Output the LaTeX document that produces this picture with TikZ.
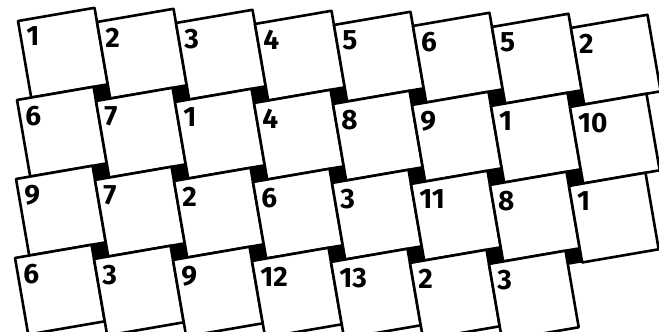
\documentclass[tikz,border=0pt]{standalone}
\usepackage{fontspec}
\setmainfont[Numbers=Proportional]{Fira Sans}

\begin{document}
\begin{tikzpicture}[x=1pt,y=1pt,
    tile/.style={draw=black,fill=white,line width=2.6pt,line join=round},
    hole/.style={fill=black},
    num/.style={anchor=north west,inner sep=0pt,font=\fontsize{28}{28}\selectfont\bfseries}]
  \def\pitch{79}
  \def\tilt{10.5}
  \def\side{77.68}
  \def\gap{14.40}
  \useasboundingbox (0,0) rectangle (659,-332);
  \clip (0,0) rectangle (659,-332);
  \begin{scope}[shift={(18,-21)},rotate=-0.72]
    % small black squares in the gaps
    \foreach \i in {0,...,6}
      \foreach \j in {0,1,2}
        \fill[hole,shift={(\i*\pitch,-\j*\pitch)},rotate=\tilt] (\side-\gap,-\side) rectangle (\side,-\side-\gap);
    % numbered tiles, row by row
    \foreach \row [count=\j from 0] in {{1,2,3,4,5,6,5,2},{6,7,1,4,8,9,1,10},{9,7,2,6,3,11,8,1},{6,3,9,12,13,2,3}}
      \foreach \lab [count=\i from 0] in \row {
        \begin{scope}[shift={(\i*\pitch,-\j*\pitch)},rotate=\tilt]
          \draw[tile] (0,0) rectangle (\side,-\side);
          \node[num] (n\i\j) at (7,-7) {\lab};
        \end{scope}
      }
  \end{scope}
\end{tikzpicture}
\end{document}
